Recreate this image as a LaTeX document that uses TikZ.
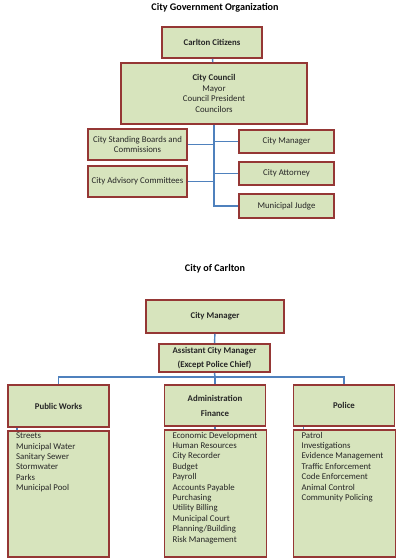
\documentclass[tikz,border=0pt]{standalone}
\usepackage{fontspec}
\setmainfont{Carlito}
\usetikzlibrary{positioning,calc}
\definecolor{boxfill}{RGB}{215,228,189}
\definecolor{boxedge}{RGB}{149,55,53}
\definecolor{linkblue}{RGB}{79,129,189}

\begin{document}
\begin{tikzpicture}[x=0.75pt, y=-0.75pt,
  every node/.style={font=\fontsize{6.6pt}{7.8pt}\selectfont, text=black!85},
  unit/.style={draw=boxedge, line width=1.3pt, fill=boxfill, align=center, inner sep=1pt},
  head/.style={font=\fontsize{7.6pt}{9pt}\selectfont\bfseries, text=black},
  duties/.style={anchor=north west, align=left, inner xsep=6.5pt, inner ysep=2pt},
  link/.style={draw=linkblue, line width=1.1pt},
]
\useasboundingbox (0,0) rectangle (400,559);

% city government
\node[head] (gtitle) at (215, 8) {City Government Organization};
\node[unit, minimum width=75pt, minimum height=23.25pt] (citizens) at (212, 42.5) {\textbf{Carlton Citizens}};
\node[unit, minimum width=139.5pt, minimum height=45.75pt] (council) at (214, 93.5) {\textbf{City Council}\\Mayor\\Council President\\Councilors};
\node[unit, minimum width=74.25pt, minimum height=23.25pt] (boards) at (137.5, 144.5) {City Standing Boards and\\Commissions};
\node[unit, minimum width=74.25pt, minimum height=23.25pt] (advisory) at (137.5, 181.5) {City Advisory Committees};
\node[unit, minimum width=71.25pt, minimum height=17.25pt] (cmgr) at (286.5, 141.5) {City Manager};
\node[unit, minimum width=71.25pt, minimum height=17.25pt] (attorney) at (286.5, 173.5) {City Attorney};
\node[unit, minimum width=71.25pt, minimum height=18pt] (judge) at (286.5, 206) {Municipal Judge};

\draw[link] (citizens) -- (council);
\draw[link] (council.south) |- (judge.west);
\draw[link] (boards.east) -- (boards.east -| council.south);
\draw[link] (advisory.east) -- (advisory.east -| council.south);
\draw[link] (cmgr.west) -- (cmgr.west -| council.south);
\draw[link] (attorney.west) -- (attorney.west -| council.south);

% city of carlton
\node[head] (ctitle) at (215, 269) {City of Carlton};
\node[unit, minimum width=103.5pt, minimum height=24.75pt] (manager) at (215, 316.5) {\textbf{City Manager}};
\node[unit, minimum width=83.25pt, minimum height=21pt] (assistant) at (214.5, 358) {\textbf{Assistant City Manager}\\[3pt]\textbf{(Except Police Chief)}};
\node[unit, minimum width=75.75pt, minimum height=31.5pt] (works) at (58.5, 406) {\textbf{Public Works}};
\node[unit, minimum width=75.75pt, minimum height=31pt] (admin) at (215, 405.5) {\textbf{Administration}\\[3.5pt]\textbf{Finance}};
\node[unit, minimum width=75.75pt, minimum height=31pt] (police) at (344, 405.5) {\textbf{Police}};

\node[unit, minimum width=75.75pt, minimum height=94.5pt] (worksbox) at (58.5, 494) {};
\node[unit, minimum width=76.5pt, minimum height=95.25pt] (adminbox) at (215.5, 493.5) {};
\node[unit, minimum width=76.5pt, minimum height=95.25pt] (policebox) at (344.5, 493.5) {};
\node[duties] (workslist) at (worksbox.north west) {Streets\\Municipal Water\\Sanitary Sewer\\Stormwater\\Parks\\Municipal Pool};
\node[duties] (adminlist) at (adminbox.north west) {Economic Development\\Human Resources\\City Recorder\\Budget\\Payroll\\Accounts Payable\\Purchasing\\Utility Billing\\Municipal Court\\Planning/Building\\Risk Management};
\node[duties] (policelist) at (policebox.north west) {Patrol\\Investigations\\Evidence Management\\Traffic Enforcement\\Code Enforcement\\Animal Control\\Community Policing};

\coordinate (bus) at (215, 377);
\draw[link] (manager) -- (assistant);
\draw[link] (assistant.south) -- (bus);
\draw[link] (works.north) |- (bus) -| (police.north);
\draw[link] (bus) -- (admin.north);
\draw[link] ([xshift=7.5pt]works.south west) -- ([xshift=7.5pt]worksbox.north west);
\draw[link] (admin.south) -- (adminbox.north -| admin.south);
\draw[link] ([xshift=8pt]police.south west) -- ([xshift=8pt]policebox.north west);
\end{tikzpicture}
\end{document}
